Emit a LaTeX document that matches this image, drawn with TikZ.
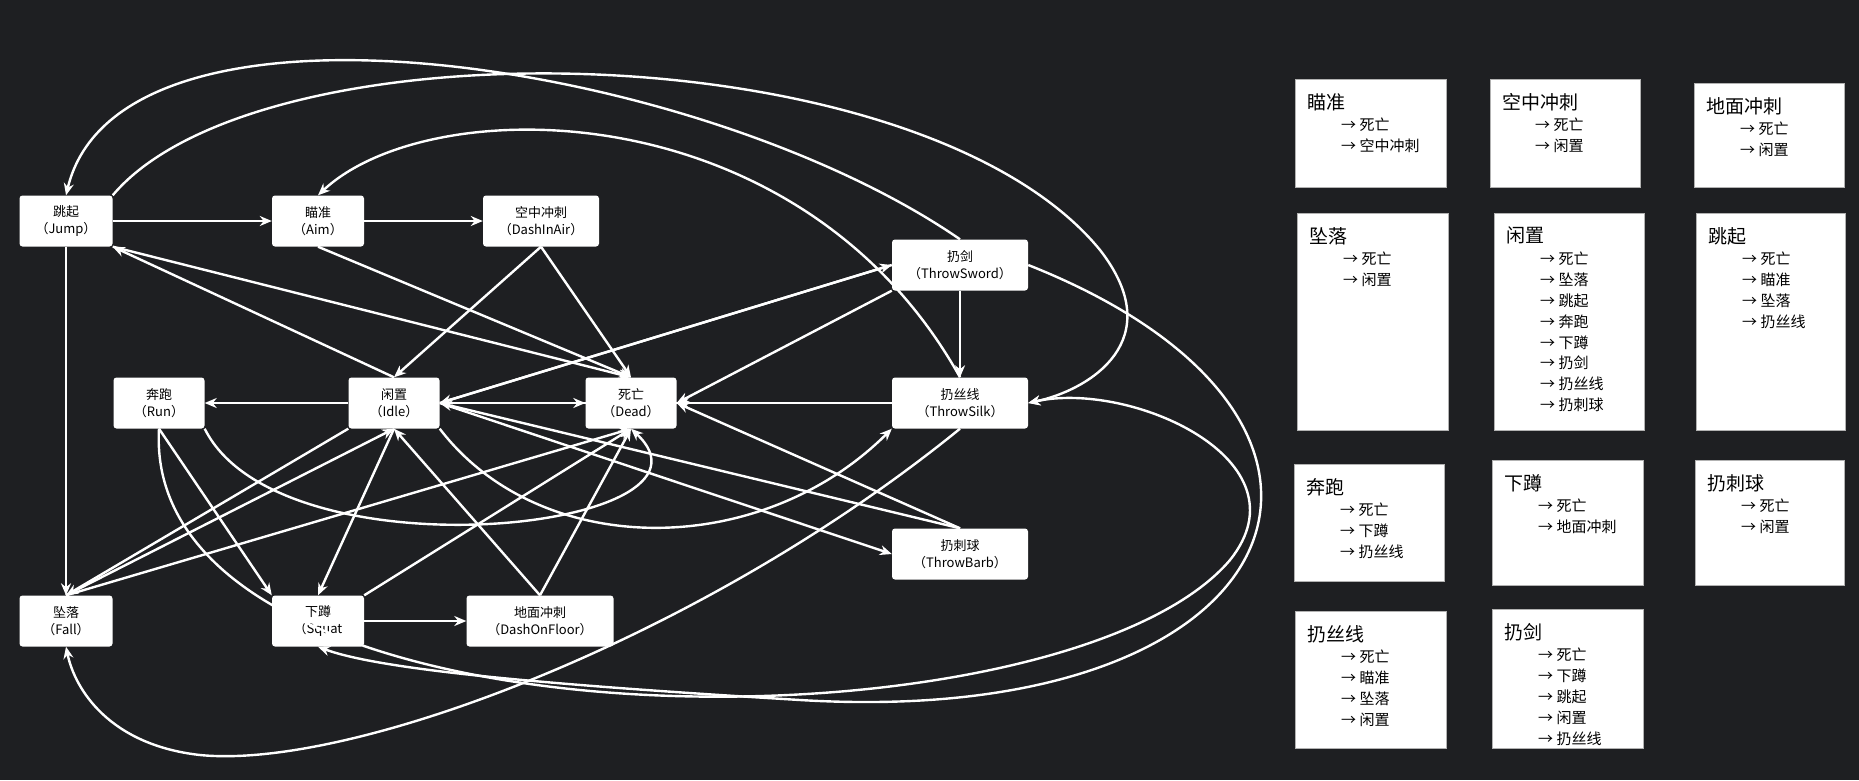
\documentclass[tikz,border=0pt]{standalone}
\usepackage{fontspec}
\setmainfont{Noto Sans CJK SC}
\usetikzlibrary{arrows.meta}
\definecolor{bg}{HTML}{1E1F22}
\begin{document}
\begin{tikzpicture}[x=1pt,y=-1pt,
  st/.style={draw=none,fill=white,rounded corners=3pt,align=center,font=\fontsize{13}{17}\selectfont,text=black,inner sep=0pt},
  e/.style={draw=white,line width=2.4pt,-{Stealth[length=12pt,width=10pt]}},
  card/.style={fill=white,draw=gray!60,line width=0.5pt},
  ttl/.style={anchor=north west,font=\fontsize{19}{22}\selectfont,text=black,inner sep=0pt},
  lst/.style={anchor=north west,align=left,font=\fontsize{15}{20.8}\selectfont,text=black,inner sep=0pt}]
\fill[bg] (0,0) rectangle (1859,780);
\useasboundingbox (0,0) rectangle (1859,780);
% states
\node[st,minimum width=93,minimum height=51] (jump) at (66,221) {跳起\\（Jump）};
\node[st,minimum width=92,minimum height=51] (aim) at (318,221) {瞄准\\（Aim）};
\node[st,minimum width=116,minimum height=51] (air) at (541,221) {空中冲刺\\（DashInAir）};
\node[st,minimum width=136,minimum height=51] (sword) at (960,265) {扔剑\\（ThrowSword）};
\node[st,minimum width=91,minimum height=51] (run) at (159,403) {奔跑\\（Run）};
\node[st,minimum width=91,minimum height=51] (idle) at (394,403) {闲置\\（Idle）};
\node[st,minimum width=91,minimum height=51] (dead) at (631,403) {死亡\\（Dead）};
\node[st,minimum width=136,minimum height=51] (silk) at (960,403) {扔丝线\\（ThrowSilk）};
\node[st,minimum width=136,minimum height=51] (barb) at (960,554) {扔刺球\\（ThrowBarb）};
\node[st,minimum width=93,minimum height=51] (fall) at (66,621) {坠落\\（Fall）};
\node[st,minimum width=92,minimum height=51] (squat) at (318,621) {下蹲\\（Squat};
\node[st,minimum width=147,minimum height=51] (floor) at (540,621) {地面冲刺\\（DashOnFloor）};
% straight edges
\draw[e] (jump) -- (aim);
\draw[e] (aim) -- (air);
\draw[e] (jump) -- (fall);
\draw[e] (jump.south east) -- (dead.north);
\draw[e] (idle.north) -- (jump.south east);
\draw[e] (aim.south) -- (dead.north);
\draw[e] (air.south) -- (idle.north);
\draw[e] (air.south) -- (dead.north);
\draw[e] (idle) -- (run);
\draw[e] (idle) -- (dead);
\draw[e] (silk) -- (dead);
\draw[e] (idle.south) -- (squat.north);
\draw[e] (idle.south west) -- (fall.north);
\draw[e] (fall.north) -- (idle.south);
\draw[e] (fall.north) -- (dead.south);
\draw[e] (squat.north east) -- (dead.south);
\draw[e] (squat) -- (floor);
\draw[e] (floor.north) -- (idle.south);
\draw[e] (floor.north) -- (dead.south);
\draw[e] (run.south) -- (squat.north west);
\draw[e] (idle.east) -- (barb.west);
\draw[e] (barb.north) -- (dead.east);
\draw[e] (barb.north) -- (idle.east);
\draw[e] (sword.west) -- (idle.east);
\draw[e] (idle.east) -- (sword.west);
\draw[e] (sword.south west) -- (dead.east);
\draw[e] (sword) -- (silk);
\draw[e] (silk) -- (idle);
% curved edges
\draw[e] (sword.north) .. controls (700,60) and (120,-30) .. (jump.north);
\draw[e] (jump.north east) .. controls (260,20) and (920,30) .. (1100,250) .. controls (1170,340) and (1090,390) .. (silk.east);
\draw[e] (silk.north) .. controls (800,90) and (430,90) .. (aim.north);
\draw[e] (sword.east) .. controls (1420,420) and (1300,730) .. (800,700) .. controls (550,685) and (380,670) .. (squat.south);
\draw[e] (run.south) .. controls (140,760) and (1060,760) .. (1230,560) .. controls (1310,460) and (1130,380) .. (silk.east);
\draw[e] (silk.south) .. controls (700,640) and (350,770) .. (200,755) .. controls (110,745) and (75,690) .. (fall.south);
\draw[e] (run.south east) .. controls (280,580) and (740,530) .. (dead.south);
\draw[e] (idle.south east) .. controls (540,560) and (760,560) .. (silk.south west);
% cards
\newcommand{\card}[5]{\draw[card] (#1,#2) rectangle (#3,#4); \node[ttl] at (#1+12,#2+14) {#5};}
\card{1295}{79}{1446}{187}{瞄准}
\node[lst] at (1341,118) {→ 死亡\\→ 空中冲刺};
\card{1490}{79}{1640}{187}{空中冲刺}
\node[lst] at (1535,118) {→ 死亡\\→ 闲置};
\card{1694}{83}{1844}{187}{地面冲刺}
\node[lst] at (1740,122) {→ 死亡\\→ 闲置};
\card{1297}{213}{1448}{430}{坠落}
\node[lst] at (1343,252) {→ 死亡\\→ 闲置};
\card{1494}{213}{1644}{430}{闲置}
\node[lst] at (1540,252) {→ 死亡\\→ 坠落\\→ 跳起\\→ 奔跑\\→ 下蹲\\→ 扔剑\\→ 扔丝线\\→ 扔刺球};
\card{1696}{213}{1845}{430}{跳起}
\node[lst] at (1742,252) {→ 死亡\\→ 瞄准\\→ 坠落\\→ 扔丝线};
\card{1294}{464}{1444}{581}{奔跑}
\node[lst] at (1340,503) {→ 死亡\\→ 下蹲\\→ 扔丝线};
\card{1492}{460}{1643}{585}{下蹲}
\node[lst] at (1538,499) {→ 死亡\\→ 地面冲刺};
\card{1695}{460}{1844}{585}{扔刺球}
\node[lst] at (1741,499) {→ 死亡\\→ 闲置};
\card{1295}{611}{1446}{748}{扔丝线}
\node[lst] at (1341,650) {→ 死亡\\→ 瞄准\\→ 坠落\\→ 闲置};
\card{1492}{609}{1643}{748}{扔剑}
\node[lst] at (1538,648) {→ 死亡\\→ 下蹲\\→ 跳起\\→ 闲置\\→ 扔丝线};
\end{tikzpicture}
\end{document}
